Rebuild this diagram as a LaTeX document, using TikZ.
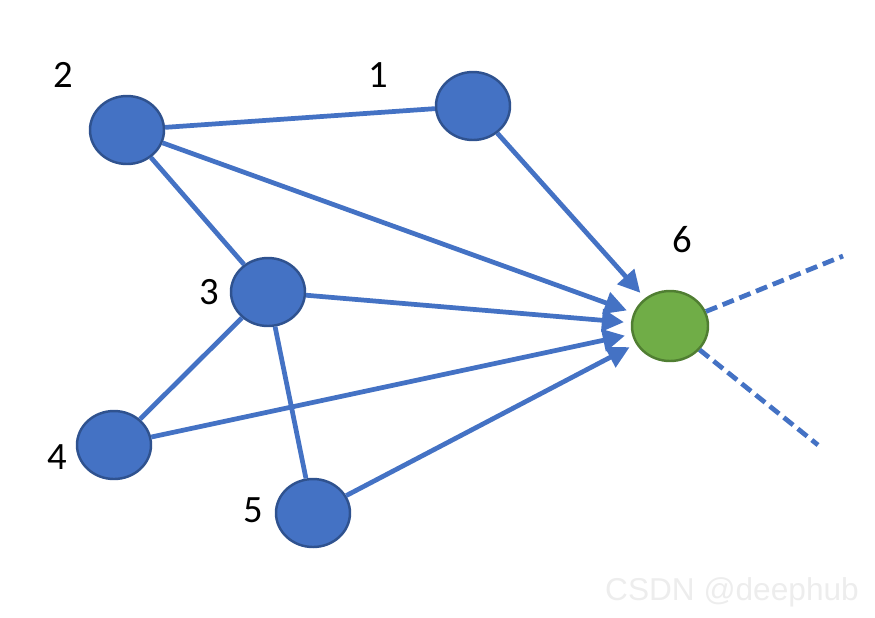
\documentclass[tikz,border=0pt]{standalone}
\usepackage{fontspec}
\setmainfont{Carlito}
\newfontfamily\wmfont{Liberation Sans}
\usetikzlibrary{positioning}
\usetikzlibrary{shapes.geometric}
\usetikzlibrary{arrows.meta}
\definecolor{nodeblue}{HTML}{4472C4}
\definecolor{nodeblueline}{HTML}{2F528F}
\definecolor{nodegreen}{HTML}{70AD47}
\definecolor{nodegreenline}{HTML}{507E32}
\tikzset{
  vertex/.style={ellipse,draw=nodeblueline,fill=nodeblue,line width=1.4pt,
    minimum width=1.48cm,minimum height=1.36cm,inner sep=0pt},
  target/.style={vertex,draw=nodegreenline,fill=nodegreen,
    minimum width=1.52cm,minimum height=1.40cm},
  num/.style={font=\fontsize{22}{26}\selectfont},
  edge/.style={draw=nodeblue,line width=2.7pt},
  arc/.style={edge,-{Triangle[length=0.44cm,width=0.44cm]},shorten >=4pt},
  loose/.style={edge,dash pattern=on 0.24cm off 0.12cm}
}

\begin{document}
\begin{tikzpicture}
\useasboundingbox (0,0) rectangle (17.5,-12.34);
% vertices
\node[vertex] (n1) at (9.46,-2.12) {};
\node[vertex] (n2) at (2.54,-2.60) {};
\node[vertex] (n3) at (5.36,-5.84) {};
\node[vertex] (n4) at (2.28,-8.90) {};
\node[vertex] (n5) at (6.26,-10.26) {};
\node[target] (n6) at (13.40,-6.52) {};
% labels
\node[num] (l1) at (7.56,-1.50) {1};
\node[num] (l2) at (1.26,-1.50) {2};
\node[num] (l3) at (4.18,-5.84) {3};
\node[num] (l4) at (1.14,-9.14) {4};
\node[num] (l5) at (5.06,-10.20) {5};
\node[num] (l6) at (13.64,-4.80) {6};
% undirected edges
\foreach \a/\b in {n2/n1,n2/n3,n3/n4,n3/n5} {
\draw[edge] (\a) -- (\b);
}
% edges into 6
\foreach \a in {n1,n2,n3,n4,n5} {
\draw[arc] (\a) -- (n6);
}
% outgoing, dashed
\coordinate (o1) at (16.86,-5.12);
\coordinate (o2) at (16.36,-8.90);
\draw[loose] (n6) -- (o1);
\draw[loose] (n6) -- (o2);
\node[font=\wmfont\fontsize{18}{22}\selectfont,text=black!7] (wm) at (14.64,-11.84) {CSDN @deephub};
\end{tikzpicture}
\end{document}
